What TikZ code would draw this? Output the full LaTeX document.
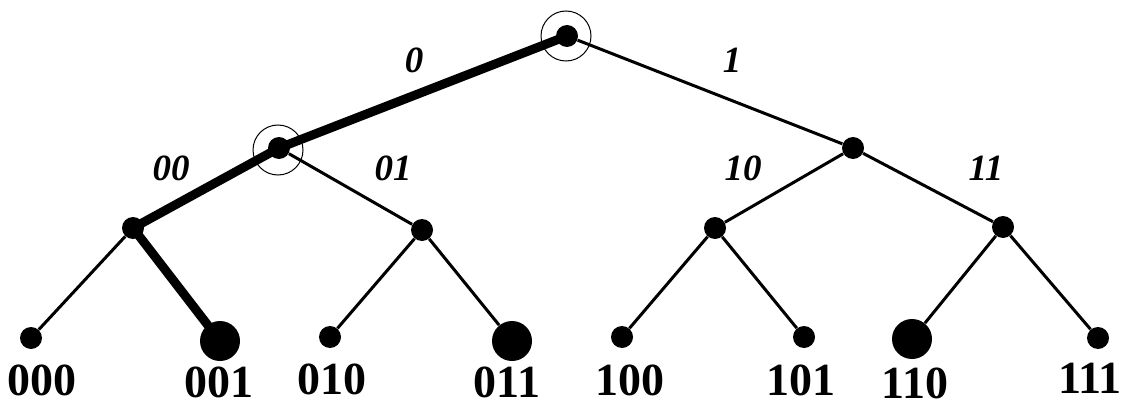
\documentclass[tikz,border=0pt]{standalone}
\usepackage{fontspec}
\setmainfont{Liberation Serif}
\tikzset{
  dot/.style={circle,fill=black,inner sep=0pt,minimum size=11pt},
  bigdot/.style={circle,fill=black,inner sep=0pt,minimum size=20pt},
  ring/.style={circle,draw,line width=0.5pt,inner sep=0pt,minimum size=25pt},
  edge/.style={line width=1.5pt},
  route/.style={line width=4.5pt},
  bitlab/.style={anchor=base,inner sep=0pt,font=\fontsize{18.5}{20}\selectfont\bfseries\itshape},
  leaflab/.style={anchor=base,inner sep=0pt,font=\fontsize{23}{24}\selectfont\bfseries}
}
\begin{document}
\begin{tikzpicture}[x=0.5pt,y=-0.5pt]
  \useasboundingbox (0,0) rectangle (1129,401);
  % inner nodes
  \node[dot] (r) at (567,36) {};
  \node[dot] (a0) at (279,148) {};
  \node[dot] (a1) at (853,148) {};
  \node[dot] (b00) at (133,228) {};
  \node[dot] (b01) at (422,230) {};
  \node[dot] (b10) at (715,228) {};
  \node[dot] (b11) at (1003,227) {};
  % leaves
  \node[dot] (c000) at (31,338) {};
  \node[bigdot] (c001) at (220,341) {};
  \node[dot] (c010) at (330,337) {};
  \node[bigdot] (c011) at (512,341) {};
  \node[dot] (c100) at (622,337) {};
  \node[dot] (c101) at (804,337) {};
  \node[bigdot] (c110) at (912,339) {};
  \node[dot] (c111) at (1098,338) {};
  % marked nodes
  \node[ring] (m0) at (566,36) {};
  \node[ring] (m1) at (278,150) {};
  % edges
  \draw[edge] (r) -- (a1);
  \draw[edge] (a0) -- (b01);
  \draw[edge] (a1) -- (b10);
  \draw[edge] (a1) -- (b11);
  \draw[edge] (b00) -- (c000);
  \draw[edge] (b01) -- (c010);
  \draw[edge] (b01) -- (c011);
  \draw[edge] (b10) -- (c100);
  \draw[edge] (b10) -- (c101);
  \draw[edge] (b11) -- (c110);
  \draw[edge] (b11) -- (c111);
  % thick path to 001
  \draw[route] (r.center) -- (a0.center) -- (b00.center) -- (c001.center);
  % edge labels
  \node[bitlab] (l0) at (414,73) {0};
  \node[bitlab] (l1) at (732,73) {1};
  \node[bitlab] (l00) at (171,180) {00};
  \node[bitlab] (l01) at (393,180) {01};
  \node[bitlab] (l10) at (743,180) {10};
  \node[bitlab] (l11) at (986,180) {11};
  % leaf labels
  \node[leaflab] (t000) at (42,395) {000};
  \node[leaflab] (t001) at (219,397) {001};
  \node[leaflab] (t010) at (332,394) {010};
  \node[leaflab] (t011) at (507,397) {011};
  \node[leaflab] (t100) at (630,395) {100};
  \node[leaflab] (t101) at (801,395) {101};
  \node[leaflab] (t110) at (915,398) {110};
  \node[leaflab] (t111) at (1090,393) {111};
\end{tikzpicture}
\end{document}
